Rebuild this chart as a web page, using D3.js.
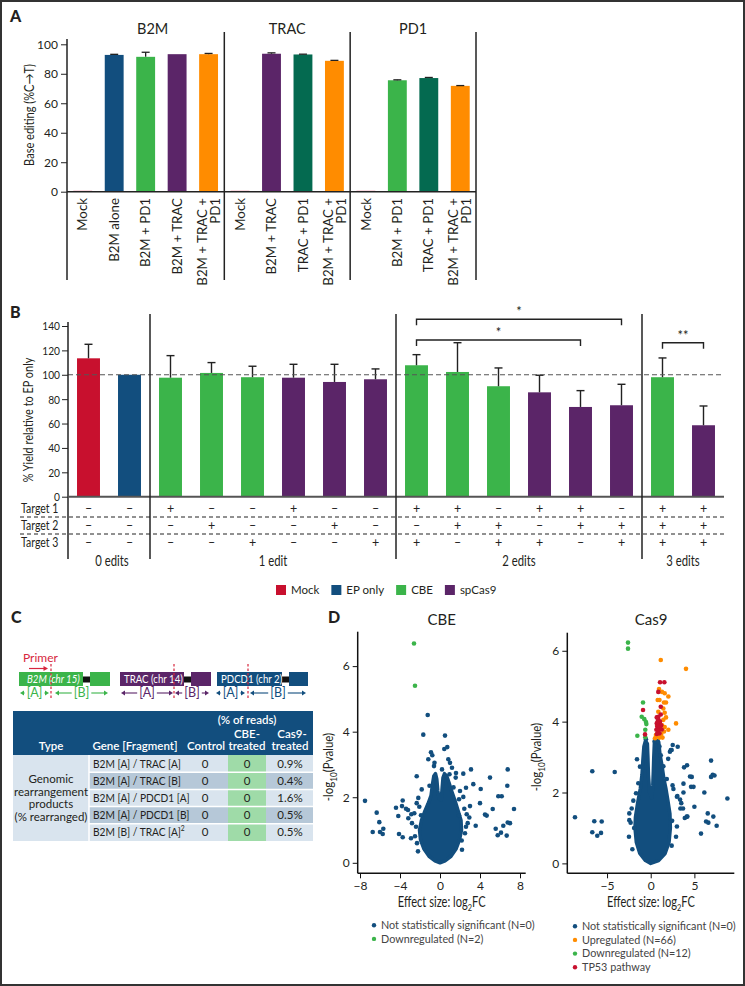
<!DOCTYPE html>
<html><head><meta charset="utf-8">
<script src="https://cdn.jsdelivr.net/npm/d3@7/dist/d3.min.js"></script>
<style>
body{margin:0;background:#fff}
svg text{font-family:Lato,"Open Sans",sans-serif;fill:#231f20}
</style></head><body>
<svg id="fig" width="745" height="986"></svg>
<script>
// ---------------- DATA ----------------
// Panel A
const aGroups = ["B2M", "TRAC", "PD1"];
const aGroupSizes = [5, 4, 4];
const aLabels = ["Mock","B2M alone","B2M + PD1","B2M + TRAC","B2M + TRAC + PD1",
                 "Mock","B2M + TRAC","TRAC + PD1","B2M + TRAC + PD1",
                 "Mock","B2M + PD1","TRAC + PD1","B2M + TRAC + PD1"];
const aValues = [0.8,92.8,91.5,93.3,93.3, 0.8,93.6,93.1,88.8, 0.8,75.6,77.1,71.8];
const aErrors = [0,0.4,3.1,0,0.5, 0,0.6,0.2,0.3, 0,0.3,0.4,0.2];
const aTicks = [0,20,40,60,80,100];

// Panel B
const bValues = [113.5,100, 97.6,101.5,98,97.6,94.1,96.3, 107.8,102.3,90.6,85.6,73.6,75, 98,58.6];
const bErrTop = [125,null, 115.7,110,107,108.6,108.6,104.8, 116.5,126.3,105.6,99.6,87,92.2, 113.8,74.4];
const bTreatment = ["Mock","EP only","CBE","CBE","CBE","spCas9","spCas9","spCas9","CBE","CBE","CBE","spCas9","spCas9","spCas9","CBE","spCas9"];
const target1 = ["–","–","+","–","–","+","–","–","+","+","–","+","+","–","+","+"];
const target2 = ["–","–","–","+","–","–","+","–","–","+","+","–","+","+","+","+"];
const target3 = ["–","–","–","–","+","–","–","+","+","–","+","+","–","+","+","+"];
const targetNames = ["Target 1","Target 2","Target 3"];
const editLabels = ["0 edits","1 edit","2 edits","3 edits"];
const editCounts = [2,6,6,2];
const bTicks = [0,20,40,60,80,100,120,140];
const bReference = 100;
const sigFrom = [8,8,14], sigTo = [13,12,15], sigLevel = [145.5,128.5,126.3], sigLabel = ["*","*","**"];
const legendB = ["Mock","EP only","CBE","spCas9"];

// Panel C
const tableGene = ["B2M [A] / TRAC [A]","B2M [A] / TRAC [B]","B2M [A] / PDCD1 [A]","B2M [A] / PDCD1 [B]","B2M [B] / TRAC [A]"];
const tableNote = ["","","","","2"];
const tableControl = ["0","0","0","0","0"];
const tableCBE = ["0","0","0","0","0"];
const tableCas9 = ["0.9%","0.4%","1.6%","0.5%","0.5%"];
const typeLines = ["Genomic","rearrangement","products","(% rearranged)"];

// Panel D - CBE
const cbeCore = [[0,0],[-0.5,0.06],[-1.1,0.2],[-1.6,0.42],[-1.95,0.7],[-2.05,1.0],[-1.85,1.3],[-1.55,1.55],[-1.2,1.8],[-0.9,2.05],[-0.75,2.4],[-0.62,2.65],[-0.45,2.72],[-0.32,2.55],[-0.22,2.2],[-0.08,1.95],[0.12,1.92],[0.22,2.3],[0.3,2.6],[0.45,2.72],[0.68,2.65],[0.9,2.45],[1.15,2.2],[1.5,1.9],[1.8,1.6],[2.1,1.3],[2.15,1.0],[1.95,0.7],[1.6,0.42],[1.1,0.2],[0.5,0.06]];
const cbeNS = [[-1.23,4.51],[-1.67,3.91],[0.5,3.88],[0.73,3.53],[0.43,3.47],[-0.9,3.37],[-0.77,3.28],[-1.17,3.16],[0.83,3.16],[1.0,3.05],[-2.33,2.64],[1.6,2.74],[2.33,2.72],[3.1,2.85],[5.0,2.6],[6.77,2.85],[6.73,2.35],[3.33,2.4],[4.07,2.25],[2.6,2.29],[2.0,2.19],[-1.83,2.24],[-2.17,1.98],[-7.5,1.89],[-6.33,1.53],[-6.07,1.24],[-6.73,0.94],[-6.0,0.94],[-5.67,1.04],[-5.73,0.88],[-4.1,0.88],[-3.73,0.78],[-2.9,0.75],[-2.5,0.81],[-4.17,1.43],[-3.8,1.73],[-4.4,1.68],[-3.73,1.9],[-3.4,1.65],[-3.2,1.61],[-2.87,1.48],[-2.57,1.51],[-3.17,1.36],[-2.8,1.21],[-2.33,1.82],[-2.07,1.71],[1.57,2.6],[1.9,1.94],[2.33,2.01],[3.0,1.73],[2.43,1.65],[2.67,1.48],[3.57,1.13],[4.0,1.82],[4.5,1.47],[4.67,1.44],[5.27,1.64],[5.83,2.03],[6.17,2.03],[7.4,1.64],[7.0,1.21],[6.77,1.23],[6.33,1.13],[5.57,1.04],[5.77,0.84],[6.1,0.92],[6.67,0.83],[2.17,0.68],[2.93,1.38],[2.77,1.21],[-2.4,1.1],[-2.3,0.6],[2.5,0.9],[2.6,1.1],[1.2,2.9],[-0.6,2.95],[0.2,2.85],[-2.2,0.35],[2.2,0.4],[-1.9,1.45],[1.9,1.45],[-1.05,2.35],[1.35,2.3],[0.95,2.7],[-0.55,3.05]];
const cbeDown = [[-2.6,6.69],[-2.5,5.40]];
const cbeLegend = ["Not statistically significant (N=0)","Downregulated (N=2)"];

// Panel D - Cas9
const cas9Core = [[0,0],[-0.6,0.08],[-1.25,0.28],[-1.65,0.6],[-1.8,1.0],[-1.75,1.3],[-1.5,1.7],[-1.2,2.1],[-1.0,2.5],[-0.9,2.9],[-0.78,3.3],[-0.6,3.46],[-0.38,3.38],[-0.32,3.0],[-0.26,2.5],[-0.12,2.0],[0.1,1.85],[0.24,2.2],[0.3,2.6],[0.35,3.0],[0.42,3.4],[0.6,3.48],[0.92,3.42],[1.05,3.1],[1.3,2.75],[1.5,2.4],[1.75,2.1],[1.95,1.8],[2.2,1.4],[2.25,1.0],[2.1,0.6],[1.65,0.28],[0.9,0.08]];
const cas9NS = [[-8.67,1.3],[-6.69,2.6],[-6.46,1.19],[-5.61,1.18],[-6.69,0.88],[-6.12,0.78],[-5.69,0.86],[-4.12,2.58],[-2.49,0.75],[-1.57,2.94],[-1.23,2.73],[-1.42,2.26],[-1.68,1.98],[-1.99,1.77],[-2.18,1.55],[-2.45,1.41],[-2.45,1.22],[-2.3,1.15],[8.78,1.83],[6.91,2.9],[7.1,2.5],[7.3,2.48],[6.91,2.44],[6.14,2.0],[5.0,1.6],[6.53,1.41],[6.34,1.18],[6.6,1.15],[7.17,1.32],[7.55,1.06],[5.76,0.84],[4.62,2.16],[4.7,2.44],[4.16,2.77],[3.82,2.71],[3.09,3.29],[2.52,3.34],[2.3,3.2],[3.0,1.88],[3.75,2.25],[3.4,1.55],[2.9,0.75],[4.13,1.32],[3.9,1.28],[2.6,2.1],[2.0,2.95],[1.84,2.38],[1.45,2.74],[1.15,3.05],[4.5,2.45],[3.75,2.0],[3.36,1.8],[2.4,3.2],[2.2,3.15],[3.5,1.7],[3.7,1.55],[4.2,1.32],[3.0,1.04],[4.9,2.16],[3.05,1.9],[2.5,2.2],[1.0,3.3],[0.8,3.45],[-0.55,3.5],[0.45,3.45],[-2.1,0.4],[2.4,0.5],[-1.9,1.0],[2.45,1.2]];
const cas9Up = [[1.15,5.74],[4.04,5.49],[0.95,4.92],[1.29,4.84],[1.6,4.8],[2.02,4.71],[0.8,4.61],[1.0,4.61],[1.52,4.54],[1.75,4.54],[1.44,4.37],[0.87,4.28],[1.6,4.25],[1.75,4.12],[1.45,4.05],[2.9,3.95],[1.3,3.9],[0.75,3.9],[2.02,3.77],[1.52,3.72],[1.2,3.65],[0.49,3.53],[0.7,3.58],[1.0,3.55],[1.35,3.55],[0.6,3.62],[1.6,3.85],[0.9,3.75]];
const cas9Down = [[-2.6,6.23],[-2.6,6.06],[-0.88,4.54],[-1.03,4.14],[-0.73,4.07],[-0.54,3.99],[-0.5,3.93],[-0.62,3.77],[-1.53,3.6],[-0.62,3.56]];
const cas9Tp53 = [[1.07,5.11],[1.56,5.11],[0.87,4.84],[1.15,4.42],[-0.88,4.33],[0.87,4.14],[0.69,4.12],[0.88,4.05],[1.07,4.0],[0.69,3.95],[0.95,3.93],[1.2,3.9],[0.75,3.86],[1.05,3.84],[0.65,3.77],[0.85,3.75],[1.26,3.78],[1.0,3.67],[0.7,3.65],[-0.65,3.64],[1.15,4.2],[0.8,4.0]];
const cas9Legend = ["Not statistically significant (N=0)","Upregulated (N=66)","Downregulated (N=12)","TP53 pathway"];

// ---------------- STYLE ----------------
const COL = {blue:"#124e7e", green:"#3bb44a", purple:"#5b2568", orange:"#ff8c00", dkgreen:"#046a50",
             red:"#c8102e", mockA:"#f2b3c3", cbeCell:"#9fdba8", light:"#d9e4ee", dark:"#b6c8d8", cut:"#d7263d"};
const aColor = {"Mock":COL.mockA,"B2M alone":COL.blue,"B2M + PD1":COL.green,"B2M + TRAC":COL.purple,
                "TRAC + PD1":COL.dkgreen,"B2M + TRAC + PD1":COL.orange};
const bColor = {"Mock":COL.red,"EP only":COL.blue,"CBE":COL.green,"spCas9":COL.purple};

const svg = d3.select("#fig");
svg.append("rect").attr("x",1).attr("y",1).attr("width",743).attr("height",984)
  .attr("fill","none").attr("stroke","#333").attr("stroke-width",2);

function T(parent,x,y,str,o){
  o = o||{};
  let tr = `translate(${x},${y})`;
  if(o.rot) tr += ` rotate(${o.rot})`;
  if(o.sx && o.sx!==1) tr += ` scale(${o.sx},1)`;
  const g = parent.append("g").attr("transform",tr);
  const t = g.append("text").attr("font-size",o.size||12).attr("text-anchor",o.anchor||"start");
  if(o.dy) t.attr("dy",o.dy);
  if(o.fill) t.style("fill",o.fill);
  if(o.weight) t.attr("font-weight",o.weight);
  if(str!=null) t.text(str);
  return t;
}

const P = svg.append("g");
T(P,10,22,"A",{size:16,weight:900}); T(P,10,318,"B",{size:16,weight:900});
T(P,11,623,"C",{size:16,weight:900}); T(P,328,623,"D",{size:16,weight:900});

// ---------------- PANEL A ----------------
const gA = svg.append("g");
const xA = d3.scaleBand().domain(d3.range(aValues.length)).range([67,476]).paddingInner(0.4).paddingOuter(0.2);
const yA = d3.scaleLinear().domain([0,100]).range([191.7,44.3]);
gA.selectAll("rect.bar").data(aValues).join("rect")
  .attr("x",(d,i)=>xA(i)).attr("width",xA.bandwidth())
  .attr("y",d=>yA(d)).attr("height",d=>yA(0)-yA(d))
  .attr("fill",(d,i)=>aColor[aLabels[i]]);
aValues.forEach((v,i)=>{
  if(!aErrors[i]) return;
  const cx = xA(i)+xA.bandwidth()/2;
  gA.append("line").attr("x1",cx).attr("x2",cx).attr("y1",yA(v)).attr("y2",yA(v+aErrors[i])).attr("stroke","#222").attr("stroke-width",1.3);
  gA.append("line").attr("x1",cx-4).attr("x2",cx+4).attr("y1",yA(v+aErrors[i])).attr("y2",yA(v+aErrors[i])).attr("stroke","#222").attr("stroke-width",1.3);
});
const axA = gA.append("g").attr("transform","translate(67,0)")
  .call(d3.axisLeft(yA).tickValues(aTicks).tickSize(6).tickPadding(3));
axA.select(".domain").remove();
axA.selectAll("text").attr("font-size",12);
axA.selectAll("line").attr("stroke","#222");
gA.append("line").attr("x1",67).attr("x2",67).attr("y1",39).attr("y2",280).attr("stroke","#222").attr("stroke-width",1.5);
gA.append("line").attr("x1",67).attr("x2",476).attr("y1",yA(0)).attr("y2",yA(0)).attr("stroke","#222").attr("stroke-width",1.5);
let startIdx = 0;
aGroups.forEach((g,k)=>{
  const endIdx = startIdx + aGroupSizes[k];
  const x0 = xA(startIdx) - xA.step()*xA.paddingOuter();
  const x1 = xA(endIdx-1) + xA.bandwidth() + xA.step()*xA.paddingOuter();
  gA.append("line").attr("x1",x1).attr("x2",x1).attr("y1",32).attr("y2",280).attr("stroke","#222").attr("stroke-width",1.5);
  T(gA,(x0+x1)/2 + (k==0?7:0),34,g,{size:14.5,anchor:"middle"});
  startIdx = endIdx;
});
aLabels.forEach((lab,i)=>{
  const parts = lab.split(" + ");
  const lines = parts.length>2 ? [parts.slice(0,2).join(" + ")+" +", parts.slice(2).join(" + ")] : [lab];
  const cx = xA(i)+xA.bandwidth()/2;
  lines.forEach((ln,j)=>{
    const off = (j - (lines.length-1)/2)*13;
    T(gA,cx+off,198,ln,{rot:-90,anchor:"end",dy:"0.35em",size:13.3});
  });
});
T(gA,29,115,"Base editing (%C\u2192T)",{rot:-90,anchor:"middle",dy:"0.35em",size:13,sx:0.85});

// ---------------- PANEL B ----------------
const gB = svg.append("g");
const xB = d3.scaleBand().domain(d3.range(bValues.length)).range([68,724]).paddingInner(0.44).paddingOuter(0.22);
const yB = d3.scaleLinear().domain([0,140]).range([496.7,326]);
const cxB = i => xB(i)+xB.bandwidth()/2;
gB.selectAll("rect.bar").data(bValues).join("rect")
  .attr("x",(d,i)=>xB(i)).attr("width",xB.bandwidth())
  .attr("y",d=>yB(d)).attr("height",d=>yB(0)-yB(d))
  .attr("fill",(d,i)=>bColor[bTreatment[i]]);
bValues.forEach((v,i)=>{
  if(bErrTop[i]==null) return;
  const cx=cxB(i);
  gB.append("line").attr("x1",cx).attr("x2",cx).attr("y1",yB(v)).attr("y2",yB(bErrTop[i])).attr("stroke","#222").attr("stroke-width",1.4);
  gB.append("line").attr("x1",cx-4).attr("x2",cx+4).attr("y1",yB(bErrTop[i])).attr("y2",yB(bErrTop[i])).attr("stroke","#222").attr("stroke-width",1.4);
});
gB.append("line").attr("x1",68).attr("x2",724).attr("y1",yB(bReference)).attr("y2",yB(bReference))
  .attr("stroke","#555").attr("stroke-width",1.2).attr("stroke-dasharray","5,3");
const axB = gB.append("g").attr("transform","translate(68,0)")
  .call(d3.axisLeft(yB).tickValues(bTicks).tickSize(6).tickPadding(2));
axB.select(".domain").remove();
axB.selectAll("text").attr("font-size",12).attr("x",-8/0.85).attr("transform","scale(0.85,1)");
axB.selectAll("line").attr("stroke","#222");
gB.append("line").attr("x1",68).attr("x2",68).attr("y1",322).attr("y2",559).attr("stroke","#222").attr("stroke-width",1.5);
gB.append("line").attr("x1",68).attr("x2",724).attr("y1",yB(0)).attr("y2",yB(0)).attr("stroke","#555").attr("stroke-width",2);
const rowsY = [509,525.5,542.5];
[target1,target2,target3].forEach((arr,r)=>{
  T(gB,21,rowsY[r],targetNames[r],{dy:"0.35em",size:12.5,sx:0.84});
  arr.forEach((s,i)=>T(gB,cxB(i),rowsY[r],s,{dy:"0.35em",anchor:"middle",size:12.5,fill:"#222"}));
});
[517,534].forEach(y=>gB.append("line").attr("x1",20).attr("x2",724).attr("y1",y).attr("y2",y)
  .attr("stroke","#222").attr("stroke-width",1).attr("stroke-dasharray","4,3"));
let sB = 0;
editLabels.forEach((lab,k)=>{
  const eB = sB + editCounts[k];
  const x0 = k==0 ? 68 : xB(sB) - xB.step()*xB.paddingInner()/2;
  const x1 = eB==bValues.length ? 724 : xB(eB) - xB.step()*xB.paddingInner()/2;
  if(eB<bValues.length) gB.append("line").attr("x1",x1).attr("x2",x1).attr("y1",314).attr("y2",559).attr("stroke","#222").attr("stroke-width",1.5);
  T(gB,(x0+x1)/2+(k==0?3:0),566,lab,{anchor:"middle",size:14.5,sx:0.78});
  sB = eB;
});
sigFrom.forEach((f,k)=>{
  const x0=cxB(f), x1=cxB(sigTo[k]), y=yB(sigLevel[k]);
  gB.append("path").attr("d",`M${x0},${y+6}V${y}H${x1}V${y+6}`).attr("fill","none").attr("stroke","#222").attr("stroke-width",1.4);
  T(gB,(x0+x1)/2,y-3,sigLabel[k],{anchor:"middle",size:13});
});
T(gB,28,420,"% Yield relative to EP only",{rot:-90,anchor:"middle",dy:"0.35em",size:14,sx:0.78});
let lx = 276;
legendB.forEach(l=>{
  gB.append("rect").attr("x",lx).attr("y",585).attr("width",10).attr("height",10).attr("fill",bColor[l]);
  const t = T(gB,lx+15,594,l,{size:11.5});
  lx += 15 + t.node().getComputedTextLength() + 12;
});

// ---------------- PANEL C ----------------
const gC = svg.append("g");
T(gC,23,662,"Primer",{size:12,fill:COL.cut});
gC.append("line").attr("x1",29).attr("x2",44).attr("y1",668.5).attr("y2",668.5).attr("stroke",COL.cut).attr("stroke-width",1.2);
gC.append("path").attr("d","M48,668.5l-4.5,-2.5v5z").attr("fill",COL.cut);
const genes = [
  {name:"B2M", chr:" (chr 15)", col:COL.green, x:[19,83,90,110], cut:51, italic:true, frags:[[20,49,"[A]"],[55,108,"[B]"]]},
  {name:"TRAC", chr:" (chr 14)", col:COL.purple, x:[120,184,191,211], cut:174, italic:false, frags:[[121,173,"[A]"],[175,209,"[B]"]]},
  {name:"PDCD1", chr:" (chr 2)", col:COL.blue, x:[217,282,289,308], cut:248, italic:false, frags:[[216,245,"[A]"],[250,306,"[B]"]]}
];
genes.forEach(g=>{
  gC.append("rect").attr("x",g.x[0]).attr("y",672).attr("width",g.x[1]-g.x[0]).attr("height",14).attr("fill",g.col);
  gC.append("rect").attr("x",g.x[1]).attr("y",676.5).attr("width",g.x[2]-g.x[1]).attr("height",6).attr("fill","#111");
  gC.append("rect").attr("x",g.x[2]).attr("y",672).attr("width",g.x[3]-g.x[2]).attr("height",14).attr("fill",g.col);
  const t = T(gC,g.x[0]+(g.italic?8:4),683,null,{size:10.5,fill:"#fff",sx:0.92});
  t.append("tspan").attr("font-style",g.italic?"italic":"normal").text(g.name);
  t.append("tspan").attr("font-style",g.italic?"italic":"normal").text(g.chr);
  gC.append("line").attr("x1",g.cut).attr("x2",g.cut).attr("y1",664).attr("y2",699).attr("stroke",COL.cut).attr("stroke-width",1.2).attr("stroke-dasharray","2.5,2");
  g.frags.forEach(f=>{
    const cx=(f[0]+f[1])/2, y=693;
    const tt = T(gC,cx,y,f[2],{dy:"0.35em",anchor:"middle",size:12.5,fill:g.col});
    const w = tt.node().getComputedTextLength()/2+2;
    if(cx-w-4 > f[0]) gC.append("line").attr("x1",f[0]+3).attr("x2",cx-w).attr("y1",y).attr("y2",y).attr("stroke",g.col).attr("stroke-width",1.1);
    if(cx+w+4 < f[1]) gC.append("line").attr("x1",cx+w).attr("x2",f[1]-3).attr("y1",y).attr("y2",y).attr("stroke",g.col).attr("stroke-width",1.1);
    gC.append("path").attr("d",`M${f[0]},${y}l4,-2.6v5.2z`).attr("fill",g.col);
    gC.append("path").attr("d",`M${f[1]},${y}l-4,-2.6v5.2z`).attr("fill",g.col);
  });
});
const tX0=13, tX1=313, hY0=711, hY1=755, rH=17.2, typeR=89, cbe0=228, cbe1=266;
gC.append("rect").attr("x",tX0).attr("y",hY0).attr("width",tX1-tX0).attr("height",hY1-hY0).attr("fill",COL.blue);
const hdr = (t,x,y)=>T(gC,x,y,t,{anchor:"middle",size:11.5,weight:600,fill:"#fff"});
hdr("(% of reads)",247,724); hdr("CBE-",247,737.5); hdr("Cas9-",292,737.5);
hdr("Type",51,750); hdr("Gene [Fragment]",135,750); hdr("Control",206,750); hdr("treated",247,750); hdr("treated",290,750);
gC.append("rect").attr("x",tX0).attr("y",hY1).attr("width",typeR-tX0).attr("height",rH*tableGene.length).attr("fill",COL.light);
tableGene.forEach((gname,i)=>{
  const y0 = hY1 + i*rH;
  gC.append("rect").attr("x",typeR).attr("y",y0).attr("width",tX1-typeR).attr("height",rH).attr("fill",i%2?COL.dark:COL.light);
  gC.append("rect").attr("x",cbe0).attr("y",y0).attr("width",cbe1-cbe0).attr("height",rH).attr("fill",COL.cbeCell);
  if(i>0) gC.append("line").attr("x1",typeR).attr("x2",tX1).attr("y1",y0).attr("y2",y0).attr("stroke","#fff").attr("stroke-width",1.5);
  const by = y0 + rH/2;
  const t = T(gC,93,by,gname,{dy:"0.35em",size:11.3,sx:0.9});
  if(tableNote[i]) t.append("tspan").attr("dy",-5).attr("font-size",7.5).text(tableNote[i]);
  T(gC,205,by,tableControl[i],{dy:"0.35em",anchor:"middle",size:11.5});
  T(gC,247,by,tableCBE[i],{dy:"0.35em",anchor:"middle",size:11.5});
  T(gC,290,by,tableCas9[i],{dy:"0.35em",anchor:"middle",size:11.5});
});
gC.append("line").attr("x1",typeR).attr("x2",typeR).attr("y1",hY1).attr("y2",hY1+rH*tableGene.length).attr("stroke","#fff").attr("stroke-width",1.5);
typeLines.forEach((l,j)=>T(gC,51,783+j*12.7,l,{anchor:"middle",size:11.5}));

// ---------------- PANEL D ----------------
function volcano(cfg){
  const g = svg.append("g");
  const x = d3.scaleLinear().domain(cfg.xd).range(cfg.xr);
  const y = d3.scaleLinear().domain(cfg.yd).range(cfg.yr);
  const line = d3.line().x(d=>x(d[0])).y(d=>y(d[1])).curve(d3.curveLinearClosed);
  g.append("path").attr("d",line(cfg.core)).attr("fill",COL.blue).attr("stroke",COL.blue).attr("stroke-width",3.5).attr("stroke-linejoin","round");
  cfg.layers.forEach(L=>{
    g.selectAll(null).data(L.pts).join("circle").attr("cx",d=>x(d[0])).attr("cy",d=>y(d[1])).attr("r",2.3).attr("fill",L.col);
  });
  const ax = g.append("g").attr("transform",`translate(${cfg.xr[0]},0)`)
    .call(d3.axisLeft(y).tickValues([0,2,4,6]).tickFormat(d3.format("d")).tickSize(5).tickPadding(3));
  const bx = g.append("g").attr("transform",`translate(0,${cfg.yr[0]})`)
    .call(d3.axisBottom(x).tickValues(cfg.xt).tickFormat(d3.format("d")).tickSize(5).tickPadding(3));
  [ax,bx].forEach(a=>{a.selectAll("text").attr("font-size",12); a.selectAll("line").attr("stroke","#111"); a.select(".domain").attr("stroke","#111").attr("stroke-width",1.5);});
  ax.select(".domain").attr("d",`M0,${cfg.yr[1]}V${cfg.yr[0]}`);
  bx.select(".domain").attr("d",`M${cfg.xr[0]},0H${cfg.xr[1]}`);
  T(g,cfg.cx,625,cfg.title,{anchor:"middle",size:15});
  const yl = T(g,cfg.ylx,cfg.yly,null,{rot:-90,anchor:"middle",size:14,sx:0.82});
  yl.append("tspan").text("-log"); yl.append("tspan").attr("dy",4).attr("font-size",10).text("10"); yl.append("tspan").attr("dy",-4).text("(Pvalue)");
  const xl = T(g,cfg.cx,907,null,{anchor:"middle",size:15,sx:0.74});
  xl.append("tspan").text("Effect size: log"); xl.append("tspan").attr("dy",4).attr("font-size",10).text("2"); xl.append("tspan").attr("dy",-4).text("FC");
  cfg.legend.forEach((l,i)=>{
    const ly = cfg.ly0 + i*13.7;
    g.append("circle").attr("cx",cfg.lx).attr("cy",ly-3.8).attr("r",2.2).attr("fill",cfg.legendCol[i]);
    T(g,cfg.lx+7,ly,l,{size:10.8,fill:"#444"});
  });
}
volcano({xd:[-8.23,8.57], xr:[357.7,525.7], yd:[-0.32,7.05], yr:[873.3,631.7], xt:[-8,-4,0,4,8],
  core:cbeCore, layers:[{pts:cbeNS,col:COL.blue},{pts:cbeDown,col:COL.green}],
  title:"CBE", cx:441.7, ylx:333, yly:767, legend:cbeLegend, legendCol:[COL.blue,COL.green], lx:374, ly0:929});
volcano({xd:[-9.55,9.57], xr:[567.3,734.3], yd:[-0.28,6.51], yr:[873.3,632.7], xt:[-5,0,5],
  core:cas9Core, layers:[{pts:cas9NS,col:COL.blue},{pts:cas9Up,col:COL.orange},{pts:cas9Down,col:COL.green},{pts:cas9Tp53,col:COL.red}],
  title:"Cas9", cx:651, ylx:541, yly:757, legend:cas9Legend, legendCol:[COL.blue,COL.orange,COL.green,COL.red], lx:575, ly0:930});
</script>
</body></html>
